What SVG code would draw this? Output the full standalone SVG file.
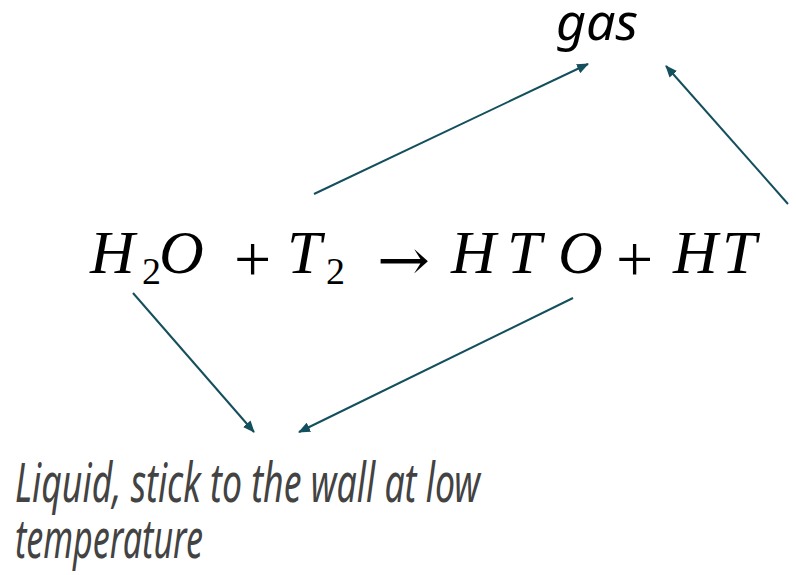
<svg xmlns="http://www.w3.org/2000/svg" width="796" height="575" viewBox="0 0 796 575">
<style>
.conn{stroke:#134f5c;stroke-width:2;fill:none;marker-end:url(#ah)}
.eq{font-family:"Liberation Serif","DejaVu Serif",serif;font-style:italic;font-size:62px;fill:#000}
.op{font-family:"Liberation Serif","DejaVu Serif",serif;font-style:normal;font-size:66px;fill:#000}
.sub{font-family:"Liberation Serif","DejaVu Serif",serif;font-style:normal;font-size:38px;fill:#000}
.hand{font-family:"Noto Sans","Open Sans",sans-serif;font-style:italic}
</style>
<defs>
<marker id="ah" viewBox="0 0 12 10" refX="11" refY="5" markerWidth="12" markerHeight="10" markerUnits="userSpaceOnUse" orient="auto">
<path d="M0,0 L12,5 L0,10 Z" fill="#134f5c"/>
</marker>
</defs>
<rect width="796" height="575" fill="#fff"/>
<g id="gas">
<text class="hand" x="556" y="40" font-size="50" fill="#000" textLength="82" lengthAdjust="spacingAndGlyphs">gas</text>
</g>
<g id="equation">
<text class="eq" x="90" y="273">H</text>
<text class="sub" x="142" y="284">2</text>
<text class="eq" x="159" y="273">O</text>
<text class="op" x="234" y="281">+</text>
<text class="eq" x="287" y="273">T</text>
<text class="sub" x="326" y="284">2</text>
<text x="377" y="280" font-family="DejaVu Serif, serif" font-size="58" textLength="53" lengthAdjust="spacingAndGlyphs" fill="#000">→</text>
<text class="eq" x="451" y="273">H</text>
<text class="eq" x="507" y="273">T</text>
<text class="eq" x="558" y="273">O</text>
<text class="op" x="616" y="281">+</text>
<text class="eq" x="673" y="273">H</text>
<text class="eq" x="722" y="273">T</text>
</g>
<g id="liquid">
<text class="hand" x="15" y="502" font-size="54" fill="#434343" textLength="465" lengthAdjust="spacingAndGlyphs">Liquid, stick to the wall at low</text>
<text class="hand" x="15" y="558" font-size="54" fill="#434343" textLength="188" lengthAdjust="spacingAndGlyphs">temperature</text>
</g>
<g id="connectors">
<line class="conn" x1="314" y1="194" x2="588" y2="64"/>
<line class="conn" x1="788" y1="204" x2="666" y2="66"/>
<line class="conn" x1="133" y1="293" x2="254" y2="432"/>
<line class="conn" x1="573" y1="298" x2="299" y2="432"/>
</g>
</svg>
